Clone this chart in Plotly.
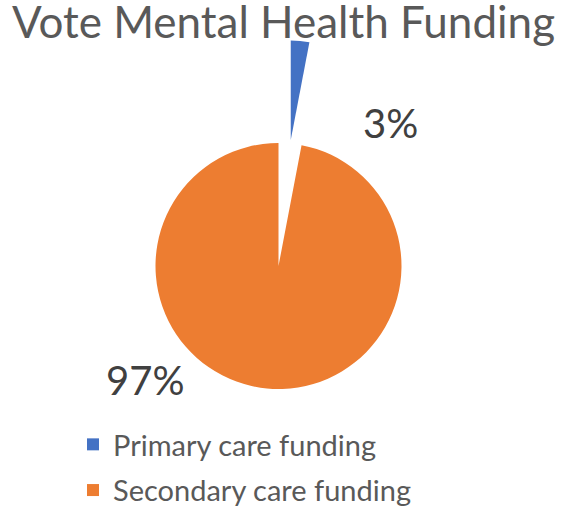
import plotly.graph_objects as go

labels = ["Primary care funding", "Secondary care funding"]
values = [3, 97]
colors = ["#4472C4", "#ED7D31"]
pct_text = ["3%", "97%"]
title_text = "Vote Mental Health Funding"

FONT = "Lato, 'Open Sans', sans-serif"
W, H = 567, 508

fig = go.Figure()

# Main (non-exploded) pie: only the secondary slice visible
fig.add_trace(go.Pie(
    labels=labels, values=values, sort=False, direction="clockwise", rotation=0,
    marker=dict(colors=["rgba(0,0,0,0)", colors[1]]),
    textinfo="none", hoverinfo="label+percent", showlegend=False,
    domain=dict(x=[155.5 / W, 401.5 / W], y=[1 - 389 / H, 1 - 143 / H]),
))

# Exploded primary slice (drawn with a smaller radius, pulled out)
fig.add_trace(go.Pie(
    labels=labels, values=values, sort=False, direction="clockwise", rotation=0,
    pull=[1, 0],
    marker=dict(colors=[colors[0], "rgba(0,0,0,0)"]),
    textinfo="none", hoverinfo="label+percent", showlegend=False,
    domain=dict(x=[82.4 / W, 480.4 / W], y=[1 - 438.1 / H, 1 - 40.1 / H]),
))

# Legend entries
for i, (lab, col) in enumerate(zip(labels, colors)):
    fig.add_trace(go.Scatter(
        x=[None], y=[None], mode="markers", name=lab, legendgroup=f"g{i}",
        marker=dict(symbol="square", size=12, color=col),
        showlegend=True,
    ))

fig.add_annotation(x=390 / W, y=1 - 123 / H, xref="paper", yref="paper",
                   xanchor="center", yanchor="middle",
                   text=pct_text[0], showarrow=False,
                   font=dict(family=FONT, size=40, color="#404040"))
fig.add_annotation(x=145 / W, y=1 - 380 / H, xref="paper", yref="paper",
                   xanchor="center", yanchor="middle",
                   text=pct_text[1], showarrow=False,
                   font=dict(family=FONT, size=40, color="#404040"))

fig.update_layout(
    width=W, height=H,
    margin=dict(l=0, r=0, t=0, b=0, autoexpand=False),
    paper_bgcolor="white", plot_bgcolor="white",
    title=dict(text=title_text, x=0.5, xanchor="center", xref="paper",
               y=1 - 23 / H, yanchor="middle", yref="container",
               font=dict(family=FONT, size=44, color="#595959")),
    xaxis=dict(visible=False), yaxis=dict(visible=False),
    legend=dict(x=73 / W, xanchor="left", y=1 - 419 / H, yanchor="top",
                font=dict(family=FONT, size=29, color="#595959"),
                traceorder="grouped", tracegroupgap=5,
                bgcolor="rgba(0,0,0,0)"),
)

fig.write_html("out.html")
